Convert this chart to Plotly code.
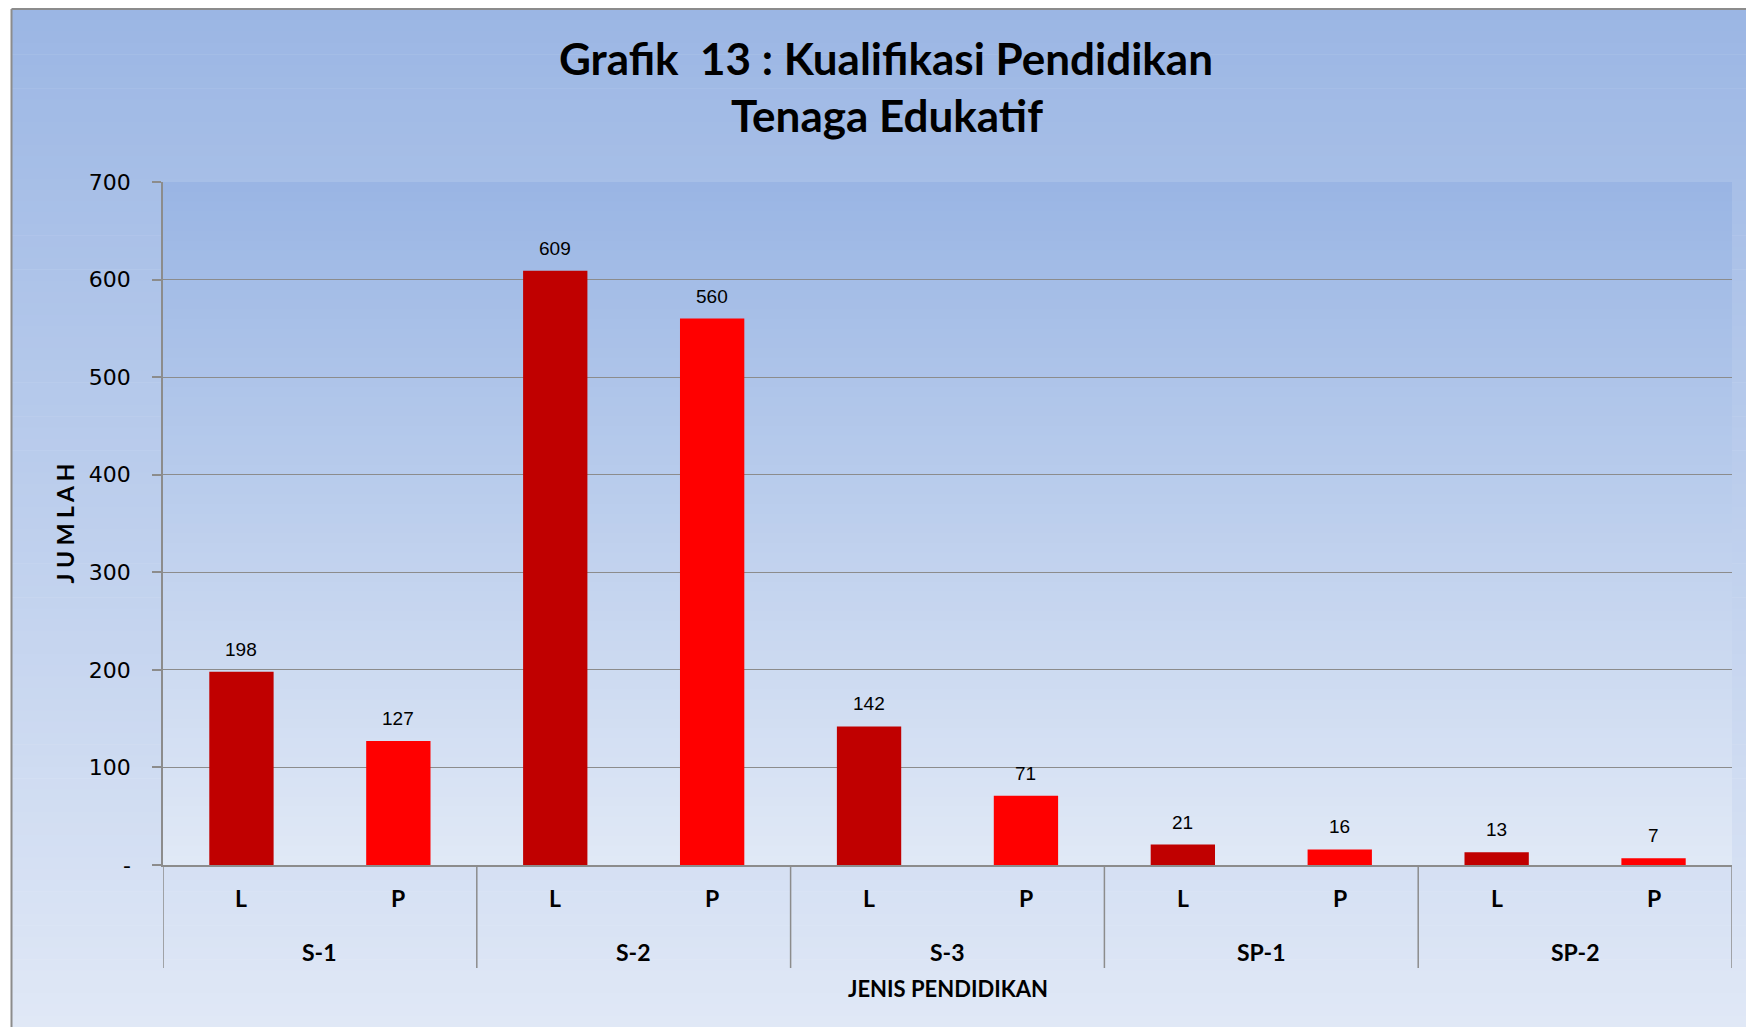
import plotly.graph_objects as go

# ---- data ----
groups = ["S-1", "S-2", "S-3", "SP-1", "SP-2"]
sexes = ["L", "P"]
values_L = [198, 609, 142, 21, 13]
values_P = [127, 560, 71, 16, 7]
y_ticks = [0, 100, 200, 300, 400, 500, 600, 700]
y_ticktext = ["-", "100", "200", "300", "400", "500", "600", "700"]

title_1 = "Grafik  13 : Kualifikasi Pendidikan"
title_2 = "Tenaga Edukatif"
y_title = "J U M L A H"
x_title = "JENIS PENDIDIKAN"

color_L = "#C00000"
color_P = "#FF0000"

# build category sequence
cats, vals, cols, inner = [], [], [], []
for g, vl, vp in zip(groups, values_L, values_P):
    for s, v, c in ((sexes[0], vl, color_L), (sexes[1], vp, color_P)):
        cats.append(f"{g} {s}")
        vals.append(v)
        cols.append(c)
        inner.append(s)

# page geometry (the page body has an 8px margin)
OFF = 8
PAGE_W, PAGE_H = 1754, 1027
W, H = PAGE_W - OFF, PAGE_H - OFF
plot_left, plot_right, plot_top, plot_bottom = 163, 1732, 182, 865
ml = plot_left - OFF
mt = plot_top - OFF
mr = PAGE_W - plot_right
mb = PAGE_H - plot_bottom
pw, ph = plot_right - plot_left, plot_bottom - plot_top


def px_to_paper_x(px):
    return (px - plot_left) / pw


def px_to_paper_y(py):
    return (plot_bottom - py) / ph


def lerp(c1, c2, t):
    return "rgb(%d,%d,%d)" % tuple(round(a + (b - a) * t) for a, b in zip(c1, c2))


fig = go.Figure()
fig.add_trace(go.Bar(
    x=cats, y=vals, marker=dict(color=cols, line=dict(width=0)),
    width=0.41, hoverinfo="x+y", showlegend=False,
))

shapes = []
frame_left, frame_top = 11.5, 9
# paper gradient (frame)
top_c, bot_c = (155, 182, 228), (224, 232, 246)
n = 90
y0p, y1p = frame_top, PAGE_H
for i in range(n):
    a = y0p + (y1p - y0p) * i / n
    b = y0p + (y1p - y0p) * (i + 1) / n + 0.6
    shapes.append(dict(type="rect", xref="paper", yref="paper",
                       x0=px_to_paper_x(frame_left), x1=px_to_paper_x(PAGE_W + 5),
                       y0=px_to_paper_y(a), y1=px_to_paper_y(b),
                       fillcolor=lerp(top_c, bot_c, (i + 0.5) / n),
                       line=dict(width=0), layer="below"))
# plot area gradient
ptop, pbot = (153, 181, 228), (225, 233, 246)
m = 70
for i in range(m):
    a = plot_top + ph * i / m
    b = plot_top + ph * (i + 1) / m + 0.6
    shapes.append(dict(type="rect", xref="paper", yref="paper",
                       x0=0, x1=1, y0=px_to_paper_y(a), y1=px_to_paper_y(min(b, plot_bottom)),
                       fillcolor=lerp(ptop, pbot, (i + 0.5) / m),
                       line=dict(width=0), layer="below"))
# frame border
shapes.append(dict(type="line", xref="paper", yref="paper",
                   x0=px_to_paper_x(frame_left), x1=px_to_paper_x(frame_left),
                   y0=px_to_paper_y(frame_top), y1=px_to_paper_y(PAGE_H + 5),
                   line=dict(color="#8C8C8C", width=2), layer="above"))
shapes.append(dict(type="line", xref="paper", yref="paper",
                   x0=px_to_paper_x(frame_left), x1=px_to_paper_x(PAGE_W + 5),
                   y0=px_to_paper_y(frame_top), y1=px_to_paper_y(frame_top),
                   line=dict(color="#8C8C8C", width=2), layer="above"))
# group dividers
for k in range(len(groups) + 1):
    xd = 2 * k - 0.5
    shapes.append(dict(type="line", xref="x", yref="paper",
                       x0=xd, x1=xd, y0=0, y1=px_to_paper_y(968),
                       line=dict(color="#8C8C8C", width=1.5), layer="above"))

annotations = []
# titles
annotations.append(dict(text=f"<b>{title_1}</b>", xref="paper", yref="paper",
                        x=px_to_paper_x(886), y=px_to_paper_y(58),
                        showarrow=False, xanchor="center", yanchor="middle",
                        font=dict(family="Lato", size=44, color="black")))
annotations.append(dict(text=f"<b>{title_2}</b>", xref="paper", yref="paper",
                        x=px_to_paper_x(887), y=px_to_paper_y(115),
                        showarrow=False, xanchor="center", yanchor="middle",
                        font=dict(family="Lato", size=44, color="black")))
# y title
annotations.append(dict(text=f"<b>{y_title}</b>", xref="paper", yref="paper",
                        x=px_to_paper_x(64), y=0.5, textangle=-90,
                        showarrow=False, xanchor="center", yanchor="middle",
                        font=dict(family="Lato", size=23, color="black")))
# x title
annotations.append(dict(text=f"<b>{x_title}</b>", xref="paper", yref="paper",
                        x=0.5, y=px_to_paper_y(989),
                        showarrow=False, xanchor="center", yanchor="middle",
                        font=dict(family="Lato", size=22, color="black")))
# inner category labels
for c, s in zip(cats, inner):
    annotations.append(dict(text=f"<b>{s}</b>", xref="x", yref="paper",
                            x=c, y=px_to_paper_y(898), showarrow=False,
                            xanchor="center", yanchor="middle",
                            font=dict(family="Lato", size=23, color="black")))
# group labels
for k, g in enumerate(groups):
    annotations.append(dict(text=f"<b>{g}</b>", xref="x", yref="paper",
                            x=2 * k + 0.5, y=px_to_paper_y(952), showarrow=False,
                            xanchor="center", yanchor="middle",
                            font=dict(family="Lato", size=23, color="black")))
# value labels
for c, v in zip(cats, vals):
    annotations.append(dict(text=str(v), xref="x", yref="y", x=c, y=v,
                            showarrow=False, xanchor="center", yanchor="bottom",
                            yshift=10,
                            font=dict(family="Liberation Sans Narrow, Arial Narrow, Liberation Sans",
                                      size=19, color="black")))

fig.update_layout(
    width=W, height=H,
    margin=dict(l=ml, r=mr, t=mt, b=mb, pad=0),
    paper_bgcolor="white", plot_bgcolor="rgba(0,0,0,0)",
    shapes=shapes, annotations=annotations,
    bargap=0.59,
    xaxis=dict(type="category", categoryorder="array", categoryarray=cats,
               range=[-0.5, len(cats) - 0.5], showticklabels=False,
               showgrid=False, zeroline=False, showline=True,
               linecolor="#8C8C8C", linewidth=2, ticks=""),
    yaxis=dict(range=[0, 700], tickvals=y_ticks, ticktext=y_ticktext,
               showgrid=True, gridcolor="#8C8C8C", gridwidth=1.2,
               zeroline=False, showline=True, linecolor="#8C8C8C", linewidth=1.5,
               ticks="outside", ticklen=9, tickcolor="#8C8C8C", tickwidth=1.5,
               ticklabelstandoff=17,
               tickfont=dict(family="DejaVu Sans", size=22, color="black")),
)

fig.write_html("out.html")
